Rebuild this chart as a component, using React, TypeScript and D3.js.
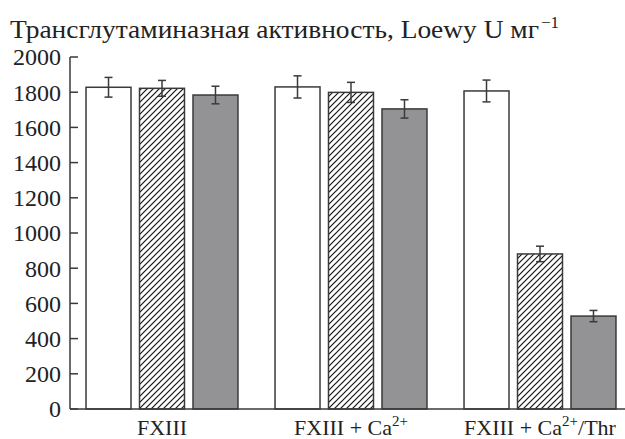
import React from "react";
import * as d3 from "d3";

const categories = ["FXIII", "FXIII + Ca2+", "FXIII + Ca2+/Thr"];
const seriesNames = ["open", "hatched", "gray"];
const openValues = [1828, 1830, 1807];
const hatchedValues = [1822, 1799, 881];
const grayValues = [1784, 1705, 528];
const openErrors = [56, 63, 62];
const hatchedErrors = [45, 57, 44];
const grayErrors = [50, 52, 32];
const yTicks = [0, 200, 400, 600, 800, 1000, 1200, 1400, 1600, 1800, 2000];

const W = 625;
const H = 439;
const FONT = "Liberation Serif";

export default function App() {
  const y = d3.scaleLinear().domain([0, 2000]).range([409, 57]);
  const x0 = d3
    .scaleBand<string>()
    .domain(categories)
    .range([67.5, 634.5])
    .paddingInner(0.196)
    .paddingOuter(0.098);
  const x1 = d3
    .scaleBand<string>()
    .domain(seriesNames)
    .range([0, x0.bandwidth()])
    .paddingInner(0.159)
    .paddingOuter(0);

  const values = [openValues, hatchedValues, grayValues];
  const errors = [openErrors, hatchedErrors, grayErrors];
  const fills = ["#ffffff", "url(#hatch)", "#939395"];
  const stroke = "#3a3a3a";
  const axisX = 70;
  const ts = { fontFamily: FONT };

  const renderLabel = (c: string) => {
    if (c === "FXIII") return <tspan>FXIII</tspan>;
    const hasThr = c.endsWith("/Thr");
    return (
      <>
        <tspan>FXIII + Ca</tspan>
        <tspan style={{ fontSize: "15px" }} dy={-9}>2+</tspan>
        {hasThr ? <tspan dy={9}>/Thr</tspan> : <tspan dy={9}> </tspan>}
      </>
    );
  };

  return (
    <svg
      width={W}
      height={H}
      style={{ position: "absolute", left: 0, top: 0, background: "#fff", fontFamily: FONT }}
    >
      <defs>
        <pattern id="hatch" patternUnits="userSpaceOnUse" width={6} height={6}>
          <rect width={6} height={6} fill="#fff" />
          <path
            d="M-1,1 L1,-1 M0,6 L6,0 M5,7 L7,5"
            stroke="#111"
            strokeWidth={1.2}
          />
        </pattern>
      </defs>

      {/* title */}
      <text
        x={10}
        y={38}
        style={{ ...ts, fontSize: "25px" }}
        fill="#222"
        textLength={529}
        lengthAdjust="spacingAndGlyphs"
      >
        Трансглутаминазная активность, Loewy U мг
      </text>
      <text x={541} y={28} style={{ ...ts, fontSize: "17px" }} fill="#222">
        −1
      </text>

      {/* y axis */}
      <line x1={axisX} x2={axisX} y1={y(2000)} y2={y(0)} stroke={stroke} strokeWidth={1.5} />
      {yTicks.map((t) => (
        <g key={t}>
          <line x1={axisX} x2={axisX + 8} y1={y(t)} y2={y(t)} stroke={stroke} strokeWidth={1.5} />
          <text
            x={61}
            y={y(t)}
            dy="0.35em"
            textAnchor="end"
            style={{ ...ts, fontSize: "24px" }}
            fill="#222"
          >
            {t}
          </text>
        </g>
      ))}

      {/* bars */}
      {categories.map((c, ci) => (
        <g key={c} transform={`translate(${x0(c)},0)`}>
          {seriesNames.map((s, si) => {
            const v = values[si][ci];
            const e = errors[si][ci];
            const bx = x1(s)!;
            const bw = x1.bandwidth();
            const cx = bx + bw / 2;
            return (
              <g key={s}>
                <rect
                  x={bx}
                  y={y(v)}
                  width={bw}
                  height={y(0) - y(v)}
                  fill={fills[si]}
                  stroke={stroke}
                  strokeWidth={1.5}
                />
                <line x1={cx} x2={cx} y1={y(v + e)} y2={y(v - e)} stroke={stroke} strokeWidth={1.5} />
                <line x1={cx - 4} x2={cx + 4} y1={y(v + e)} y2={y(v + e)} stroke={stroke} strokeWidth={1.5} />
                <line x1={cx - 4} x2={cx + 4} y1={y(v - e)} y2={y(v - e)} stroke={stroke} strokeWidth={1.5} />
              </g>
            );
          })}
        </g>
      ))}

      {/* x axis */}
      <line x1={axisX} x2={W} y1={y(0)} y2={y(0)} stroke={stroke} strokeWidth={1.5} />
      {categories.map((c) => (
        <text
          key={c}
          x={x0(c)! + x0.bandwidth() / 2}
          y={435}
          textAnchor="middle"
          style={{ ...ts, fontSize: "22px" }}
          fill="#222"
        >
          {renderLabel(c)}
        </text>
      ))}
    </svg>
  );
}
